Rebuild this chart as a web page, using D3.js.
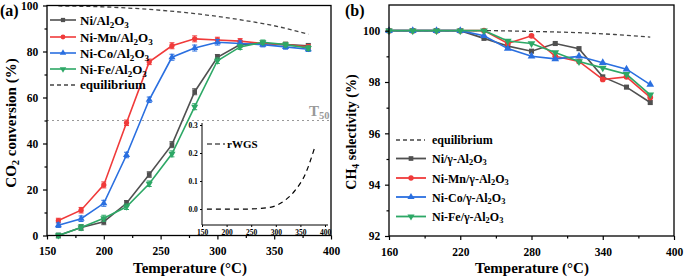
<!DOCTYPE html>
<html>
<head>
  <meta charset="utf-8">
  <script src="https://cdn.jsdelivr.net/npm/d3@7"></script>
  <style>
    body { margin: 0; background: #fff; }
  </style>
</head>
<body>
  <svg width="685" height="279" id="mainsvg"></svg>
  <script>
    const svg = d3.select('#mainsvg');

    // ---- data ----
    const temps = [160, 180, 200, 220, 240, 260, 280, 300, 320, 340, 360, 380];
    const convNi = [0, 3.5, 6, 14, 26.5, 39.5, 62.5, 77.5, 83, 83.5, 83, 82.5];
    const convMn = [6.5, 11, 22, 49, 75.5, 82.5, 85.5, 85, 84.5, 83.5, 83, 82];
    const convCo = [4.5, 7.3, 14, 35, 59, 77.5, 81.5, 84, 83.5, 83, 82, 81];
    const convFe = [0, 3.5, 7.5, 12.5, 22.5, 35.5, 56, 76, 82, 84, 83, 81.5];
    const convErr = [1, 1.2, 1.3, 1.2, 1.2, 1.3, 1.3, 1.2, 1.1, 1, 1, 1];
    const eqTemps = [160, 200, 240, 280, 320, 350, 380];
    const eqConv = [99.8, 99.4, 98.3, 96.5, 93.8, 91.2, 87.5];
    const rwgsTemps = [160, 200, 240, 260, 280, 300, 320, 340, 360, 380];
    const rwgsVals = [0, 0, 0, 0.001, 0.004, 0.012, 0.033, 0.068, 0.125, 0.225];

    const selNi = [100, 100, 100, 100, 99.7, 99.4, 99.2, 99.5, 99.3, 98.2, 97.8, 97.2];
    const selMn = [100, 100, 100, 100, 100, 99.5, 99.8, 99.0, 98.8, 98.1, 98.2, 97.4];
    const selCo = [100, 100, 100, 100, 99.8, 99.3, 99.0, 98.9, 99.0, 98.75, 98.5, 97.9];
    const selFe = [100, 100, 100, 100, 100, 99.6, 99.5, 99.15, 98.8, 98.55, 98.3, 97.5];
    const eqSelTemps = [160, 240, 280, 320, 350, 380];
    const eqSel = [100, 100, 99.97, 99.92, 99.85, 99.75];

    const xTicksA = [150, 200, 250, 300, 350, 400];
    const yTicksA = [0, 20, 40, 60, 80, 100];
    const xTicksB = [160, 220, 280, 340, 400];
    const yTicksB = [92, 94, 96, 98, 100];
    const insetXTicks = [150, 200, 250, 300, 350, 400];
    const insetYTicks = [0, 0.1, 0.2, 0.3];

    const series = [
      { name: 'Ni/Al_2O_3', nameB: 'Ni/γ-Al_2O_3', conv: convNi, sel: selNi, color: '#505050', shape: d3.symbolSquare },
      { name: 'Ni-Mn/Al_2O_3', nameB: 'Ni-Mn/γ-Al_2O_3', conv: convMn, sel: selMn, color: '#f03a3a', shape: d3.symbolCircle },
      { name: 'Ni-Co/Al_2O_3', nameB: 'Ni-Co/γ-Al_2O_3', conv: convCo, sel: selCo, color: '#2a6fe0', shape: d3.symbolTriangle },
      { name: 'Ni-Fe/Al_2O_3', nameB: 'Ni-Fe/γ-Al_2O_3', conv: convFe, sel: selFe, color: '#2da866', shape: 'down' }
    ];

    // text with _x subscripts
    function richText(sel, str, size) {
      const parts = str.split(/(_\d)/);
      parts.forEach(p => {
        if (!p) return;
        if (p[0] === '_') {
          sel.append('tspan').attr('font-size', size * 0.7).attr('baseline-shift', '-30%').text(p.slice(1));
        } else {
          sel.append('tspan').text(p);
        }
      });
      return sel;
    }

    function marker(g, s, x, y, size) {
      if (s.shape === 'down') {
        g.append('path').attr('d', d3.symbol(d3.symbolTriangle, size)())
          .attr('transform', `translate(${x},${y}) rotate(180)`).attr('fill', s.color);
      } else {
        g.append('path').attr('d', d3.symbol(s.shape, size)())
          .attr('transform', `translate(${x},${y})`).attr('fill', s.color);
      }
    }

    function frame(xs, ys, xTicks, yTicks, xMinor, yMinor) {
      const g = svg.append('g');
      const [x0, x1] = xs.range(), [y0, y1] = ys.range();
      g.append('rect').attr('x', x0).attr('y', y1).attr('width', x1 - x0).attr('height', y0 - y1)
        .attr('fill', 'none').attr('stroke', '#000').attr('stroke-width', 1.3);
      const xa = g.append('g').attr('transform', `translate(0,${y0})`)
        .call(d3.axisBottom(xs).tickValues(xTicks).tickSize(4).tickFormat(d3.format('d')));
      const ya = g.append('g').attr('transform', `translate(${x0},0)`)
        .call(d3.axisLeft(ys).tickValues(yTicks).tickSize(4).tickFormat(d3.format('d')));
      g.append('g').attr('transform', `translate(0,${y0})`)
        .call(d3.axisBottom(xs).tickValues(xMinor).tickSize(2.5).tickFormat(''));
      g.append('g').attr('transform', `translate(${x0},0)`)
        .call(d3.axisLeft(ys).tickValues(yMinor).tickSize(2.5).tickFormat(''));
      g.selectAll('.domain').remove();
      g.selectAll('.tick line').attr('stroke-width', 1.2);
      g.selectAll('.tick text').attr('font-size', 11.5).attr('fill', '#000');
      xa.selectAll('.tick text').attr('dy', '1.1em');
      ya.selectAll('.tick text').attr('dx', '-0.15em');
      return g;
    }

    // ================= panel (a) =================
    const xA = d3.scaleLinear().domain([150, 400]).range([47, 331]);
    const yA = d3.scaleLinear().domain([0, 100]).range([235.5, 5.5]);

    // T50 dotted line
    svg.append('line').attr('x1', xA(150)).attr('x2', xA(400)).attr('y1', yA(50)).attr('y2', yA(50))
      .attr('stroke', '#999').attr('stroke-width', 1.2).attr('stroke-dasharray', '2,3');
    richText(svg.append('text').attr('x', 309).attr('y', 116).attr('font-size', 15)
      .attr('fill', '#999'), 'T_5_0', 15);

    // equilibrium
    const lineA = d3.line().x(d => xA(d[0])).y(d => yA(d[1])).curve(d3.curveMonotoneX);
    svg.append('path').attr('d', lineA(eqTemps.map((t, i) => [t, eqConv[i]])))
      .attr('fill', 'none').attr('stroke', '#444').attr('stroke-width', 1.3).attr('stroke-dasharray', '4,3');

    // inset
    const xI = d3.scaleLinear().domain([150, 400]).range([202, 325]);
    const yI = d3.scaleLinear().domain([-0.057, 0.3]).range([225, 125]);
    const gi = svg.append('g');
    gi.append('rect').attr('x', 202).attr('y', 123).attr('width', 126).attr('height', 102).attr('fill', '#fff');
    gi.append('line').attr('x1', 202).attr('x2', 202).attr('y1', 123).attr('y2', 225).attr('stroke', '#000');
    gi.append('line').attr('x1', 202).attr('x2', 328).attr('y1', 225).attr('y2', 225).attr('stroke', '#000');
    const ix = gi.append('g').attr('transform', 'translate(0,225)')
      .call(d3.axisBottom(xI).tickValues(insetXTicks).tickSize(2).tickFormat(d3.format('d')));
    const iy = gi.append('g').attr('transform', 'translate(202,0)')
      .call(d3.axisLeft(yI).tickValues(insetYTicks).tickSize(2).tickFormat(d3.format('.1f')));
    gi.selectAll('.domain').remove();
    gi.selectAll('.tick text').attr('font-size', 7.5).attr('fill', '#000');
    iy.selectAll('.tick text').attr('dx', '0.1em');
    ix.selectAll('.tick text').attr('dy', '0.6em');
    gi.append('path').attr('d', d3.line().x(d => xI(d[0])).y(d => yI(d[1])).curve(d3.curveMonotoneX)(rwgsTemps.map((t, i) => [t, rwgsVals[i]])))
      .attr('fill', 'none').attr('stroke', '#000').attr('stroke-width', 1.2).attr('stroke-dasharray', '5,4');
    gi.append('line').attr('x1', 207).attr('x2', 225).attr('y1', 144).attr('y2', 144)
      .attr('stroke', '#000').attr('stroke-width', 1.2).attr('stroke-dasharray', '5,3');
    gi.append('text').attr('x', 227).attr('y', 148).attr('font-size', 11).text('rWGS');

    // series (a)
    series.forEach(s => {
      const g = svg.append('g');
      g.append('path').attr('d', d3.line().x(d => xA(d[0])).y(d => yA(d[1]))(temps.map((t, i) => [t, s.conv[i]])))
        .attr('fill', 'none').attr('stroke', s.color).attr('stroke-width', 1.6);
      temps.forEach((t, i) => {
        const x = xA(t), v = s.conv[i], e = convErr[i];
        g.append('line').attr('x1', x).attr('x2', x).attr('y1', yA(v - e)).attr('y2', yA(v + e))
          .attr('stroke', s.color).attr('stroke-width', 1);
        [v - e, v + e].forEach(w => g.append('line').attr('x1', x - 2.5).attr('x2', x + 2.5)
          .attr('y1', yA(w)).attr('y2', yA(w)).attr('stroke', s.color).attr('stroke-width', 1));
        marker(g, s, x, yA(v), 22);
      });
    });

    frame(xA, yA, xTicksA, yTicksA, d3.range(175, 400, 50), d3.range(10, 100, 20));

    // legend (a)
    const legA = [20, 37, 53, 69];
    series.forEach((s, i) => {
      const y = legA[i];
      svg.append('line').attr('x1', 50).attr('x2', 76).attr('y1', y).attr('y2', y)
        .attr('stroke', s.color).attr('stroke-width', 1.6);
      marker(svg, s, 63, y, 18);
      richText(svg.append('text').attr('x', 80).attr('y', y + 4.5).attr('font-size', 13), s.name, 13);
    });
    svg.append('line').attr('x1', 50).attr('x2', 76).attr('y1', 85).attr('y2', 85)
      .attr('stroke', '#444').attr('stroke-width', 1.3).attr('stroke-dasharray', '4,3');
    svg.append('text').attr('x', 80).attr('y', 89).attr('font-size', 13).text('equilibrium');

    // titles (a)
    svg.append('text').attr('x', 190).attr('y', 273).attr('text-anchor', 'middle').attr('font-size', 15)
      .text('Temperature (°C)');
    richText(svg.append('text').attr('transform', 'translate(16,123) rotate(-90)').attr('text-anchor', 'middle')
      .attr('font-size', 15), 'CO_2 conversion (%)', 15);
    svg.append('text').attr('x', 0).attr('y', 16).attr('font-size', 16).text('(a)');

    // ================= panel (b) =================
    const xB = d3.scaleLinear().domain([160, 400]).range([389, 674]);
    const yB = d3.scaleLinear().domain([92, 101]).range([236, 5]);

    svg.append('path').attr('d', d3.line().x(d => xB(d[0])).y(d => yB(d[1])).curve(d3.curveMonotoneX)(eqSelTemps.map((t, i) => [t, eqSel[i]])))
      .attr('fill', 'none').attr('stroke', '#444').attr('stroke-width', 1.3).attr('stroke-dasharray', '4,3');

    series.forEach(s => {
      const g = svg.append('g');
      g.append('path').attr('d', d3.line().x(d => xB(d[0])).y(d => yB(d[1]))(temps.map((t, i) => [t, s.sel[i]])))
        .attr('fill', 'none').attr('stroke', s.color).attr('stroke-width', 1.6);
      temps.forEach((t, i) => marker(g, s, xB(t), yB(s.sel[i]), 26));
    });

    frame(xB, yB, xTicksB, yTicksB, d3.range(190, 400, 60), d3.range(93, 101, 2));

    // legend (b)
    svg.append('line').attr('x1', 396).attr('x2', 425).attr('y1', 140).attr('y2', 140)
      .attr('stroke', '#444').attr('stroke-width', 1.3).attr('stroke-dasharray', '4,3');
    svg.append('text').attr('x', 432).attr('y', 144).attr('font-size', 12).text('equilibrium');
    const legB = [158.5, 178, 197, 216.5];
    series.forEach((s, i) => {
      const y = legB[i];
      svg.append('line').attr('x1', 396).attr('x2', 426).attr('y1', y).attr('y2', y)
        .attr('stroke', s.color).attr('stroke-width', 1.8);
      marker(svg, s, 411, y, 22);
      richText(svg.append('text').attr('x', 432).attr('y', y + 4.5).attr('font-size', 12), s.nameB, 12);
    });

    svg.append('text').attr('x', 532).attr('y', 273).attr('text-anchor', 'middle').attr('font-size', 15)
      .text('Temperature (°C)');
    richText(svg.append('text').attr('transform', 'translate(356,132) rotate(-90)').attr('text-anchor', 'middle')
      .attr('font-size', 14), 'CH_4 selectivity (%)', 14);
    svg.append('text').attr('x', 345).attr('y', 16).attr('font-size', 16).text('(b)');

    // serif bold everywhere
    svg.selectAll('text').style('font-family', '"Liberation Serif"').style('font-weight', 'bold');
  </script>
</body>
</html>
